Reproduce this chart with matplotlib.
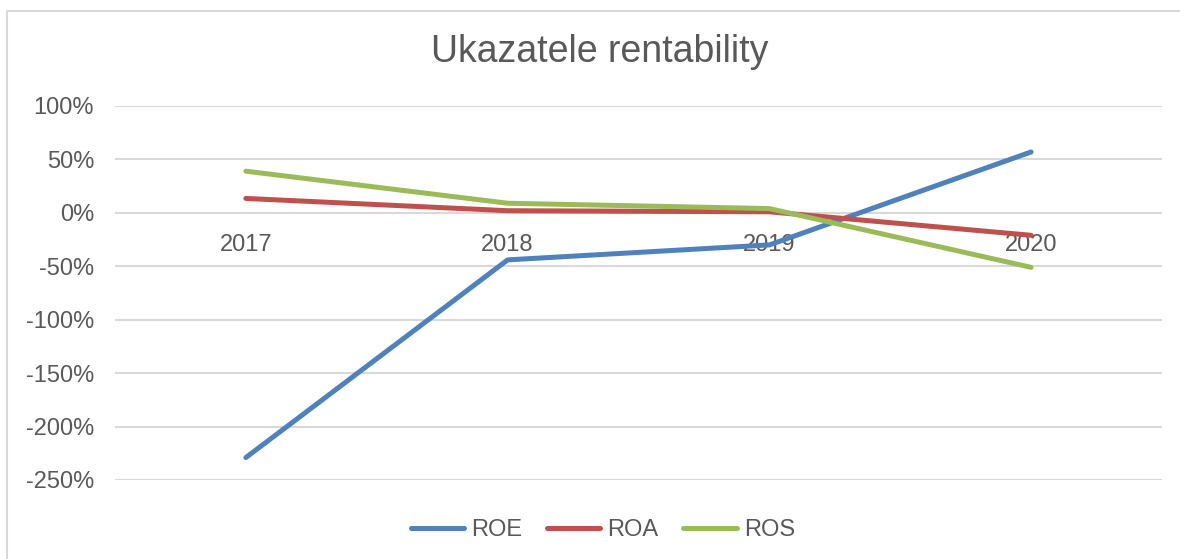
import matplotlib
matplotlib.use("Agg")
import matplotlib.pyplot as plt
from matplotlib.ticker import FuncFormatter
from matplotlib.lines import Line2D

plt.rcParams["font.family"] = ["Liberation Sans", "DejaVu Sans"]

# data (in %)
years = ["2017", "2018", "2019", "2020"]
roe = [-229, -44, -30, 57]
roa = [13.5, 2, 1, -21]
ros = [39, 9, 4, -51]

series_names = ["ROE", "ROA", "ROS"]
series_colors = ["#4F81BD", "#C0504D", "#9BBB59"]
text_col = "#595959"

W, H = 1180, 559
fig = plt.figure(figsize=(W / 100, H / 100), dpi=100)

# chart border (only left and top edges show in the crop)
fig.add_artist(Line2D([7 / W, 7 / W], [0, 1 - 11 / H], color="#D9D9D9", lw=1.5))
fig.add_artist(Line2D([7 / W, 1], [1 - 11 / H, 1 - 11 / H], color="#D9D9D9", lw=1.5))

ax = fig.add_axes([115 / W, 1 - 480 / H, (1162 - 115) / W, (480 - 106) / H])

x = range(len(years))
for vals, name, col in zip([roe, roa, ros], series_names, series_colors):
    ax.plot(x, [v / 100 for v in vals], color=col, lw=3.6, label=name,
            solid_capstyle="round", solid_joinstyle="round")

ax.set_xlim(-0.5, len(years) - 0.5)
ax.set_ylim(-2.5, 1.0)
ax.set_yticks([1.0, 0.5, 0, -0.5, -1.0, -1.5, -2.0, -2.5])
ax.yaxis.set_major_formatter(FuncFormatter(lambda v, p: "%d%%" % round(v * 100)))
ax.grid(axis="y", color="#D9D9D9", lw=1.5)
ax.set_axisbelow(True)

ax.set_xticks(list(x))
ax.set_xticklabels(years)
ax.spines["bottom"].set_position(("data", 0))
for s in ["top", "right", "left", "bottom"]:
    ax.spines[s].set_visible(False)
ax.tick_params(axis="both", length=0, labelsize=17, colors=text_col)
ax.tick_params(axis="x", pad=15)
ax.tick_params(axis="y", pad=15)

fig.text(600 / W, 1 - 52 / H, "Ukazatele rentability", ha="center", va="center",
         fontsize=27, color=text_col)

leg = fig.legend(loc="center", bbox_to_anchor=(603 / W, 1 - 530 / H), ncol=3,
                 frameon=False, fontsize=17, handlelength=2.25, handletextpad=0.3,
                 columnspacing=1.05)
for t in leg.get_texts():
    t.set_color(text_col)

fig.savefig("out.png", dpi=100)
